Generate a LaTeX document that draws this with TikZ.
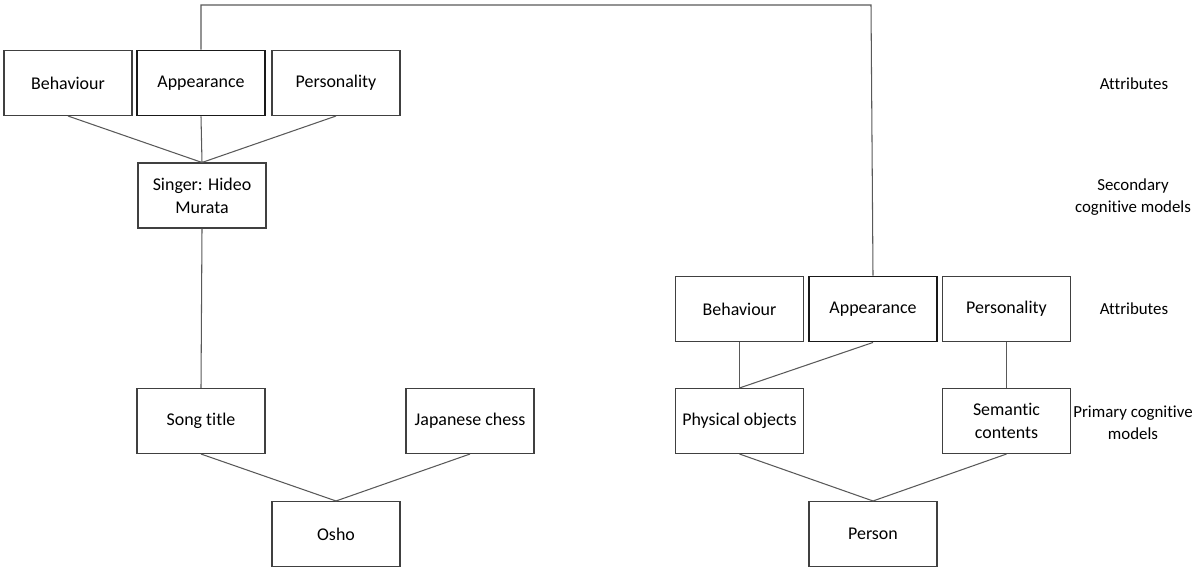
\documentclass[tikz,border=0pt]{standalone}
\usepackage{fontspec}
\setmainfont{Carlito}[Ligatures=NoCommon]
\tikzset{
  box/.style={draw=black!75, line width=0.6pt, minimum width=2.56cm, minimum height=1.3cm, align=center, font=\fontsize{10.2}{13}\selectfont},
  boldbox/.style={box, draw=black!90, line width=1.1pt},
  level/.style={align=center, font=\fontsize{9.6}{12.5}\selectfont},
  link/.style={draw=black!65, line width=0.6pt}
}
\begin{document}
\begin{tikzpicture}[x=0.02cm,y=-0.02cm]
				\useasboundingbox (0,0) rectangle (1196,570);
				% Nhánh bên trái
				\node[box] (behL) at (68,83) {Behaviour};
				\node[boldbox] (appL) at (201,83) {Appearance};
				\node[box] (perL) at (336,83) {Personality};
				\node[box] (singer) at (202,195.5) {Singer: Hideo\\Murata};
				\node[box] (song) at (201,421) {Song title};
				\node[box] (chess) at (470,421) {Japanese chess};
				\node[box] (osho) at (336,534) {Osho};
				
				% Nhánh bên phải
				\node[box] (behR) at (739.5,309) {Behaviour};
				\node[boldbox] (appR) at (873,309) {Appearance};
				\node[box] (perR) at (1006.5,309) {Personality};
				\node[box] (phys) at (739.5,421) {Physical objects};
				\node[box] (sem) at (1006.5,421) {Semantic\\contents};
				\node[box] (person) at (873,534) {Person};
				
				% Nhãn các tầng
				\node[level] (attrTop) at (1134,84) {Attributes};
				\node[level] (second) at (1133,197) {Secondary\\cognitive models};
				\node[level] (attrLow) at (1134,309) {Attributes};
				\node[level] (primary) at (1133,423) {Primary cognitive\\models};
				
				% Các đường nối
				\coordinate (topR) at (871,5);
				\draw[link] (appL.north) |- (topR) -- (appR.north);
				\draw[link] (behL.south) -- (singer.north);
				\draw[link] (appL.south) -- (singer.north);
				\draw[link] (perL.south) -- (singer.north);
				\draw[link] (singer.south) -- (song.north);
				\draw[link] (song.south) -- (osho.north);
				\draw[link] (chess.south) -- (osho.north);
				\draw[link] (behR.south) -- (phys.north);
				\draw[link] (appR.south) -- (phys.north);
				\draw[link] (perR.south) -- (sem.north);
				\draw[link] (phys.south) -- (person.north);
				\draw[link] (sem.south) -- (person.north);
\end{tikzpicture}
\end{document}
